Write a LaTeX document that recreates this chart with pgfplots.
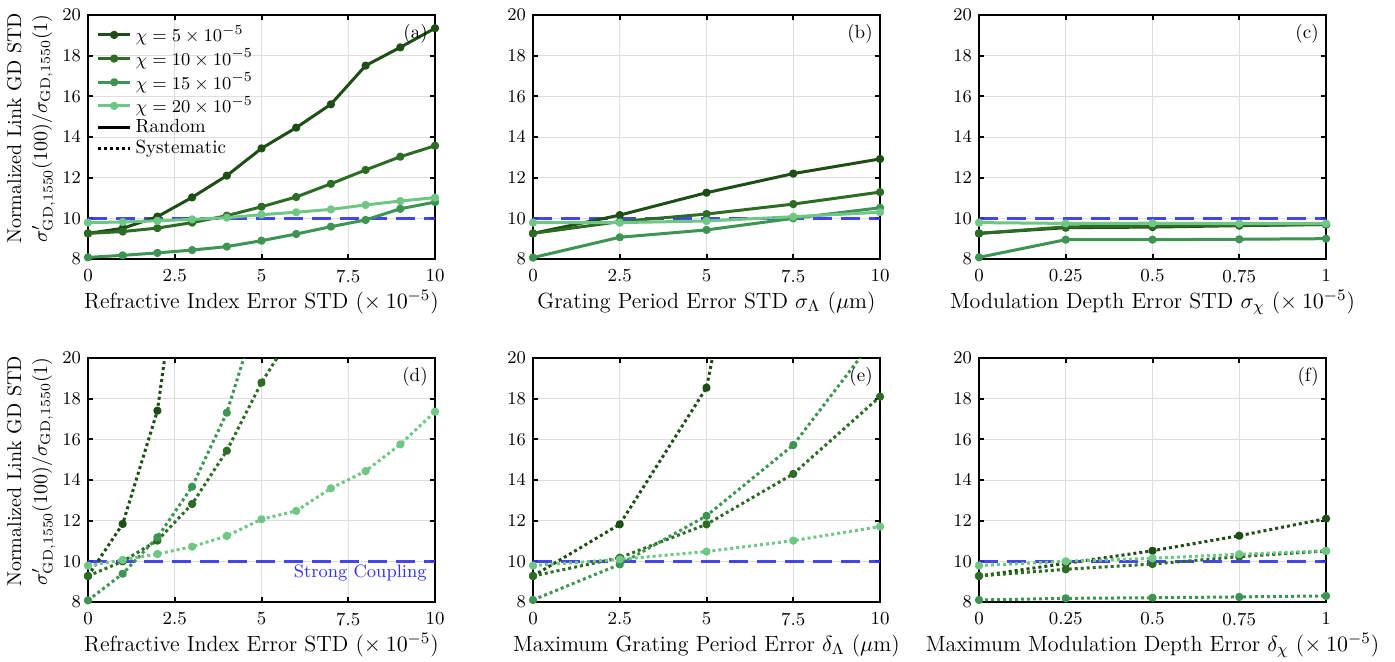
\documentclass[border=0pt]{standalone}
\usepackage{pgfplots}
\pgfplotsset{compat=1.18}
\definecolor{gA}{RGB}{30,78,22}
\definecolor{gB}{RGB}{45,108,36}
\definecolor{gC}{RGB}{62,148,82}
\definecolor{gD}{RGB}{112,198,132}
\definecolor{refblue}{RGB}{50,50,242}
\tikzset{plab/.style={anchor=north east, inner sep=0pt, font=\fontsize{9.5}{11}\selectfont}}
\pgfplotsset{
  panel/.style={
    scale only axis, width=173.5pt, height=122pt,
    anchor=south west,
    ymin=8, ymax=20, ytick={8,10,...,20},
    grid=major, major grid style={black!13, line width=0.5pt},
    axis line style={line width=1pt},
    every tick/.style={line width=1pt, black}, major tick length=2.5pt,
    tick align=inside,
    tick label style={font=\fontsize{9.2}{11}\selectfont},
    xticklabel style={inner sep=0.3pt, yshift=-4.8pt},
    xlabel style={font=\fontsize{11}{13}\selectfont, inner sep=0.3pt, at={(axis description cs:0.5,0)}, anchor=base, yshift=-24.5pt},
    clip mode=individual,
    every axis plot/.append style={line width=1.5pt, mark=*, mark size=1.3pt, mark options={solid}, line join=round},
  },
  wide/.style={xmin=0, xmax=10, xtick={0,2.5,5,7.5,10}, xticklabels={0,2.5,5,7.5,10}},
  narrow/.style={xmin=0, xmax=1, xtick={0,0.25,0.5,0.75,1}, xticklabels={0,0.25,0.5,0.75,1}},
  ylab/.style={ylabel={Normalized Link GD STD\\[1pt]$\sigma'_{\mathrm{GD},1550}(100)/\sigma_{\mathrm{GD},1550}(1)$},
    ylabel style={align=center, font=\fontsize{10}{12}\selectfont, at={(axis description cs:-0.164,0.535)}, anchor=center}},
  sys/.style={dash pattern=on 1.5pt off 1.5pt},
  refline/.style={refblue, opacity=0.9, line width=1.5pt, mark=none, dash pattern=on 9.5pt off 4.5pt, forget plot},
}
\begin{document}
\begin{tikzpicture}
\useasboundingbox (0,0) rectangle (697.5pt,330.5pt);
% (a)
\begin{axis}[panel, wide, ylab, at={(44pt,201pt)},
  xlabel={Refractive Index Error STD ($\times\: 10^{-5}$)},
  legend style={at={(axis description cs:0.018,0.985)}, anchor=north west, draw=none, fill=none,
    font=\fontsize{9.5}{10}\selectfont, row sep=-2pt, inner sep=1pt},
  legend cell align=left,
  legend image code/.code={\draw[mark repeat=2,mark phase=2] plot coordinates {(0pt,0pt)(8pt,0pt)(16pt,0pt)};}]
\addplot[refline] coordinates {(0,10)(10,10)};
\addplot[gA] coordinates {(0,9.26)(1,9.51)(2,10.08)(3,11.03)(4,12.10)(5,13.44)(6,14.46)(7,15.61)(8,17.51)(9,18.41)(10,19.35)};
\addlegendentry{$\chi = 5 \times 10^{-5}$}
\addplot[gB] coordinates {(0,9.26)(1,9.35)(2,9.52)(3,9.79)(4,10.13)(5,10.57)(6,11.05)(7,11.70)(8,12.38)(9,13.03)(10,13.57)};
\addlegendentry{$\chi = 10 \times 10^{-5}$}
\addplot[gC] coordinates {(0,8.08)(1,8.18)(2,8.30)(3,8.44)(4,8.61)(5,8.90)(6,9.23)(7,9.59)(8,9.92)(9,10.47)(10,10.80)};
\addlegendentry{$\chi = 15 \times 10^{-5}$}
\addplot[gD] coordinates {(0,9.79)(1,9.82)(2,9.88)(3,9.95)(4,10.03)(5,10.18)(6,10.30)(7,10.44)(8,10.66)(9,10.85)(10,11.02)};
\addlegendentry{$\chi = 20 \times 10^{-5}$}
\addlegendimage{black, line width=1.5pt, mark=none}
\addlegendentry{Random}
\addlegendimage{black, line width=1.5pt, mark=none, sys}
\addlegendentry{Systematic}
\node[plab] at (rel axis cs:0.98,0.963) {(a)};
\end{axis}
% (b)
\begin{axis}[panel, wide, at={(266.5pt,201pt)},
  xlabel={Grating Period Error STD $\sigma_\Lambda$ ($\mu$m)}]
\addplot[refline] coordinates {(0,10)(10,10)};
\addplot[gA] coordinates {(0,9.26)(2.5,10.16)(5,11.26)(7.5,12.20)(10,12.92)};
\addplot[gB] coordinates {(0,9.26)(2.5,9.84)(5,10.21)(7.5,10.70)(10,11.29)};
\addplot[gC] coordinates {(0,8.07)(2.5,9.07)(5,9.43)(7.5,10.00)(10,10.52)};
\addplot[gD] coordinates {(0,9.79)(2.5,9.79)(5,9.87)(7.5,10.08)(10,10.30)};
\node[plab] at (rel axis cs:0.98,0.963) {(b)};
\end{axis}
% (c)
\begin{axis}[panel, narrow, at={(489.5pt,201pt)},
  xlabel={Modulation Depth Error STD $\sigma_\chi$ ($\times\: 10^{-5}$)}]
\addplot[refline] coordinates {(0,10)(1,10)};
\addplot[gA] coordinates {(0,9.26)(0.25,9.54)(0.5,9.57)(0.75,9.64)(1,9.70)};
\addplot[gB] coordinates {(0,9.26)(0.25,9.58)(0.5,9.62)(0.75,9.66)(1,9.70)};
\addplot[gC] coordinates {(0,8.08)(0.25,8.95)(0.5,8.95)(0.75,8.97)(1,9.00)};
\addplot[gD] coordinates {(0,9.79)(0.25,9.75)(0.5,9.76)(0.75,9.74)(1,9.74)};
\node[plab] at (rel axis cs:0.98,0.963) {(c)};
\end{axis}
% (d)
\begin{axis}[panel, wide, ylab, at={(44pt,29.5pt)},
  xlabel={Refractive Index Error STD ($\times\: 10^{-5}$)}]
\addplot[refline] coordinates {(0,10)(10,10)};
\addplot[gA, sys, mark indices={1,2,3}] coordinates {(0,9.28)(1,11.84)(2,17.41)(3,29.7)};
\addplot[gB, sys, mark indices={1,2,3,4,5,6}] coordinates {(0,9.28)(1,10.0)(2,11.02)(3,12.82)(4,15.44)(5,18.79)(6,21.5)};
\addplot[gC, sys, mark indices={1,2,3,4,5}] coordinates {(0,8.08)(1,9.39)(2,11.18)(3,13.67)(4,17.31)(5,22.8)};
\addplot[gD, sys] coordinates {(0,9.79)(1,10.07)(2,10.36)(3,10.72)(4,11.25)(5,12.07)(6,12.48)(7,13.59)(8,14.44)(9,15.75)(10,17.36)};
\node[plab] at (rel axis cs:0.98,0.963) {(d)};
\node[anchor=north east, inner sep=0pt, text=refblue, font=\fontsize{9}{10}\selectfont, xshift=-4pt, yshift=-1.5pt] at (axis cs:10,10) {Strong Coupling};
\end{axis}
% (e)
\begin{axis}[panel, wide, at={(266.5pt,29.5pt)},
  xlabel={Maximum Grating Period Error $\delta_\Lambda$ ($\mu$m)}]
\addplot[refline] coordinates {(0,10)(10,10)};
\addplot[gA, sys, mark indices={1,2,3}] coordinates {(0,9.28)(2.5,11.82)(5,18.54)(7.5,40)};
\addplot[gB, sys] coordinates {(0,9.28)(2.5,10.18)(5,11.82)(7.5,14.30)(10,18.10)};
\addplot[gC, sys, mark indices={1,2,3,4}] coordinates {(0,8.10)(2.5,9.85)(5,12.24)(7.5,15.72)(10,21.3)};
\addplot[gD, sys] coordinates {(0,9.79)(2.5,10.10)(5,10.48)(7.5,11.02)(10,11.71)};
\node[plab] at (rel axis cs:0.98,0.963) {(e)};
\end{axis}
% (f)
\begin{axis}[panel, narrow, at={(489.5pt,29.5pt)},
  xlabel={Maximum Modulation Depth Error $\delta_\chi$ ($\times\: 10^{-5}$)}]
\addplot[refline] coordinates {(0,10)(1,10)};
\addplot[gA, sys] coordinates {(0,9.28)(0.25,9.90)(0.5,10.52)(0.75,11.26)(1,12.10)};
\addplot[gB, sys] coordinates {(0,9.28)(0.25,9.61)(0.5,9.87)(0.75,10.23)(1,10.51)};
\addplot[gC, sys] coordinates {(0,8.10)(0.25,8.18)(0.5,8.21)(0.75,8.25)(1,8.30)};
\addplot[gD, sys] coordinates {(0,9.79)(0.25,10.00)(0.5,10.15)(0.75,10.35)(1,10.52)};
\node[plab] at (rel axis cs:0.98,0.963) {(f)};
\end{axis}
\end{tikzpicture}
\end{document}
